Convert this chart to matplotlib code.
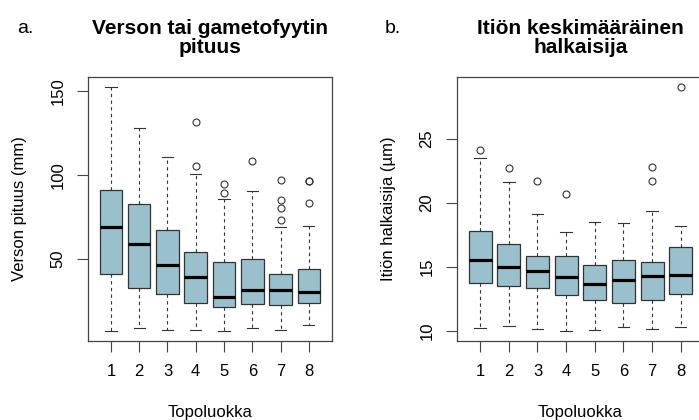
import matplotlib
matplotlib.use("Agg")
import matplotlib.pyplot as plt

plt.rcParams["font.family"] = ["Liberation Sans", "DejaVu Sans"]

# Topoluokat
classes = [1, 2, 3, 4, 5, 6, 7, 8]

# a. Verson pituus (mm)
a_whislo = [7.1, 8.8, 7.7, 7.6, 7.1, 8.8, 7.9, 10.7]
a_q1 = [40.9, 32.6, 29.3, 23.6, 21.6, 23.0, 22.6, 23.6]
a_med = [69.0, 59.1, 46.2, 39.1, 27.2, 31.5, 31.5, 30.5]
a_q3 = [91.1, 82.9, 67.4, 54.3, 48.0, 50.2, 41.1, 43.9]
a_whishi = [152.6, 127.8, 110.9, 100.8, 85.9, 90.5, 68.9, 69.8]
a_fliers = [[], [], [], [131.4, 105.5], [94.5, 89.5], [108.2],
            [96.8, 85.1, 80.4, 73.0], [96.4, 96.7, 83.3]]

# b. Itiön halkaisija (µm)
b_whislo = [10.23, 10.41, 10.18, 10.02, 10.10, 10.36, 10.18, 10.31]
b_q1 = [13.80, 13.56, 13.36, 12.84, 12.42, 12.23, 12.42, 12.94]
b_med = [15.57, 15.05, 14.71, 14.27, 13.67, 14.03, 14.30, 14.40]
b_q3 = [17.84, 16.80, 15.86, 15.91, 15.16, 15.52, 15.41, 16.59]
b_whishi = [23.50, 21.64, 19.14, 17.73, 18.54, 18.48, 19.35, 18.25]
b_fliers = [[24.16], [22.78], [21.74], [20.73], [], [], [22.84, 21.72], [29.09]]

box_color = "#9bc0cd"
edge = "#333333"


def make_stats(lo, q1, med, q3, hi, fl):
    return [dict(whislo=lo[i], q1=q1[i], med=med[i], q3=q3[i], whishi=hi[i],
                 fliers=fl[i], label=str(classes[i])) for i in range(len(classes))]


def draw(ax, stats, yticks, title, ylabel):
    ax.bxp(stats, positions=classes, widths=0.8, patch_artist=True,
           boxprops=dict(facecolor=box_color, edgecolor=edge, linewidth=0.9),
           medianprops=dict(color="black", linewidth=2.3, solid_capstyle="butt"),
           whiskerprops=dict(color=edge, linewidth=0.8, linestyle=(0, (3, 3))),
           capprops=dict(color=edge, linewidth=0.8),
           flierprops=dict(marker="o", markerfacecolor="none", markeredgecolor=edge,
                           markersize=5, markeredgewidth=0.8))
    lo = min(s["whislo"] for s in stats)
    hi = max([s["whishi"] for s in stats] + [max(s["fliers"]) for s in stats if s["fliers"]])
    r = hi - lo
    ax.set_ylim(lo - 0.04 * r, hi + 0.04 * r)
    ax.set_xlim(0.18, 8.82)
    ax.set_yticks(yticks)
    ax.set_yticklabels([str(t) for t in yticks], rotation=90, va="center")
    ax.set_xticks(classes)
    ax.set_xticklabels([str(c) for c in classes])
    ax.tick_params(axis="both", labelsize=12, length=8, width=0.8, color="#444444")
    ax.tick_params(axis="y", pad=8)
    ax.tick_params(axis="x", pad=9)
    for s in ax.spines.values():
        s.set_color("#444444")
        s.set_linewidth(0.9)
    ax.set_xlabel("Topoluokka", fontsize=12)
    ax.xaxis.set_label_coords(0.5, -0.245)
    ax.set_ylabel(ylabel, fontsize=12)
    ax.yaxis.set_label_coords(-0.247, 0.5)
    ax.text(0.5, 1.076, title, transform=ax.transAxes, ha="center", va="bottom",
            fontsize=15, fontweight="bold", linespacing=1.0)


fig = plt.figure(figsize=(6.99, 4.2), dpi=100)
ax1 = fig.add_axes([0.1255, 0.1888, 0.3495, 0.628])
ax2 = fig.add_axes([0.6534, 0.1888, 0.354, 0.628])

draw(ax1, make_stats(a_whislo, a_q1, a_med, a_q3, a_whishi, a_fliers),
     [50, 100, 150], "Verson tai gametofyytin\npituus", "Verson pituus (mm)")
draw(ax2, make_stats(b_whislo, b_q1, b_med, b_q3, b_whishi, b_fliers),
     [10, 15, 20, 25], "Itiön keskimääräinen\nhalkaisija", "Itiön halkaisija (µm)")

fig.text(17 / 699, 1 - 33 / 420, "a.", fontsize=14, va="baseline")
fig.text(385 / 699, 1 - 33 / 420, "b.", fontsize=14, va="baseline")

fig.savefig("out.png", dpi=100)
